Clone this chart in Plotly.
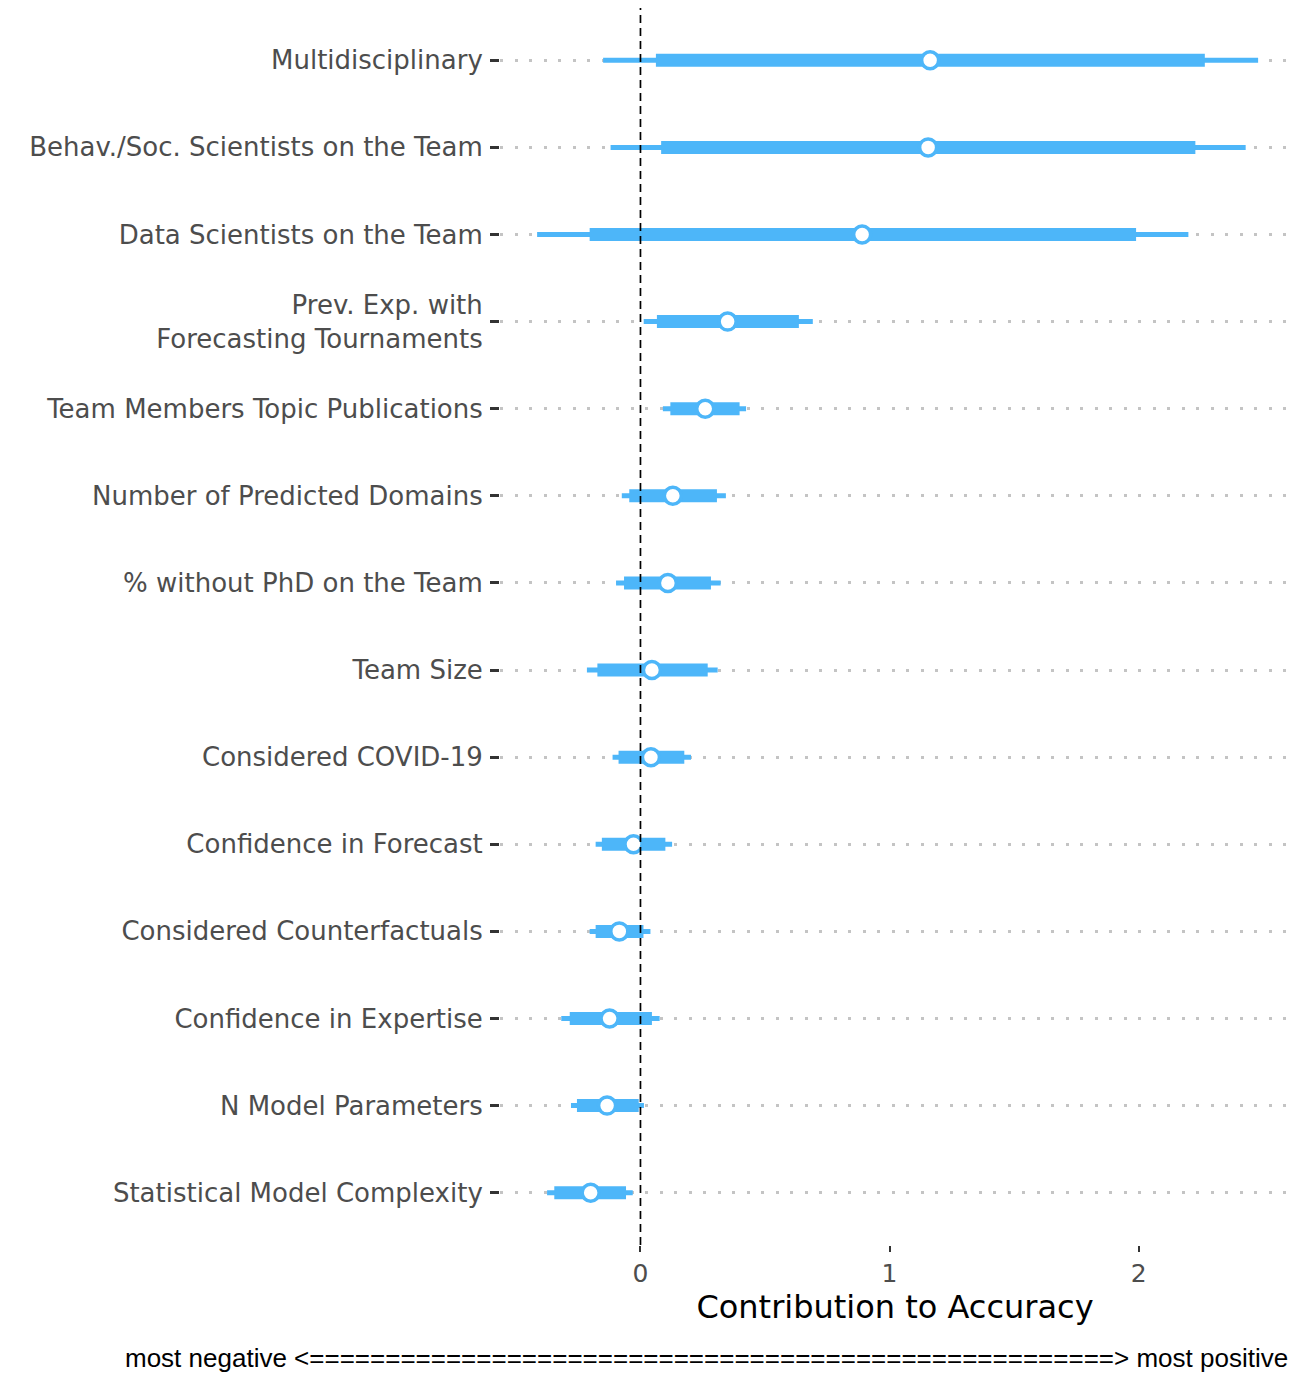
import plotly.graph_objects as go

# rows, top to bottom
labels = [
    "Multidisciplinary",
    "Behav./Soc. Scientists on the Team",
    "Data Scientists on the Team",
    "Prev. Exp. with<br>Forecasting Tournaments",
    "Team Members Topic Publications",
    "Number of Predicted Domains",
    "% without PhD on the Team",
    "Team Size",
    "Considered COVID-19",
    "Confidence in Forecast",
    "Considered Counterfactuals",
    "Confidence in Expertise",
    "N Model Parameters",
    "Statistical Model Complexity",
]
lo_outer = [-0.15, -0.12, -0.415, 0.013, 0.09, -0.075, -0.098, -0.215, -0.112, -0.18, -0.204, -0.318, -0.279, -0.375]
lo_inner = [0.062, 0.083, -0.204, 0.066, 0.12, -0.045, -0.066, -0.173, -0.088, -0.155, -0.18, -0.284, -0.255, -0.346]
estimate = [1.163, 1.155, 0.89, 0.35, 0.26, 0.13, 0.11, 0.046, 0.042, -0.028, -0.085, -0.124, -0.134, -0.2]
hi_inner = [2.266, 2.228, 1.99, 0.636, 0.398, 0.307, 0.283, 0.27, 0.176, 0.10, 0.012, 0.046, -0.007, -0.058]
hi_outer = [2.48, 2.43, 2.20, 0.692, 0.424, 0.343, 0.322, 0.31, 0.203, 0.127, 0.04, 0.077, 0.014, -0.031]

x_ticks = [0, 1, 2]
x_title = "Contribution to Accuracy"
caption = "most negative <" + "=" * 53 + "> most positive"

blue = "#4DB6F9"


def segments(lo, hi):
    xs, ys = [], []
    for a, b, lab in zip(lo, hi, labels):
        xs += [a, b, None]
        ys += [lab, lab, None]
    return xs, ys


fig = go.Figure()

xs, ys = segments(lo_outer, hi_outer)
fig.add_trace(go.Scatter(x=xs, y=ys, mode="lines", line=dict(color=blue, width=5),
                         hoverinfo="skip", showlegend=False))

xs, ys = segments(lo_inner, hi_inner)
fig.add_trace(go.Scatter(x=xs, y=ys, mode="lines", line=dict(color=blue, width=13),
                         hoverinfo="skip", showlegend=False))

fig.add_trace(go.Scatter(x=estimate, y=labels, mode="markers",
                         marker=dict(size=17, color="white", line=dict(color=blue, width=3.5)),
                         showlegend=False))

# reference line at zero
fig.add_shape(type="line", xref="x", yref="paper", x0=0, x1=0, y0=0, y1=1,
              line=dict(color="black", width=1.7, dash="8px,5px"), layer="above")

fig.update_yaxes(
    type="category",
    categoryorder="array",
    categoryarray=labels[::-1],
    range=[-0.6, len(labels) - 0.4],
    showgrid=True, gridcolor="#C4C4C4", gridwidth=3, griddash="3px,11.5px",
    ticks="outside", ticklen=9, tickwidth=3, tickcolor="#333333",
    ticklabelstandoff=2,
    tickfont=dict(family="DejaVu Sans", size=26, color="#4D4D4D"),
    showline=False, zeroline=False,
)
fig.update_xaxes(
    range=[-0.564, 2.608],
    tickvals=x_ticks,
    showgrid=False, zeroline=False, showline=False,
    ticks="outside", ticklen=6, tickwidth=2, tickcolor="#333333",
    tickfont=dict(family="DejaVu Sans", size=25, color="#4D4D4D"),
    title=dict(text=x_title, font=dict(family="DejaVu Sans", size=32, color="black"), standoff=2),
)

fig.add_annotation(text=caption, xref="paper", yref="paper", x=1.0, y=0, yshift=-113,
                   xanchor="right", yanchor="middle", showarrow=False,
                   font=dict(family="Liberation Sans", size=26, color="black"))

# the page adds an 8px body margin, so the figure is 8px smaller than the window
fig.update_layout(
    width=1303, height=1369,
    margin=dict(l=492, r=21, t=0, b=132),
    plot_bgcolor="white", paper_bgcolor="white",
)

fig.write_html("out.html")
